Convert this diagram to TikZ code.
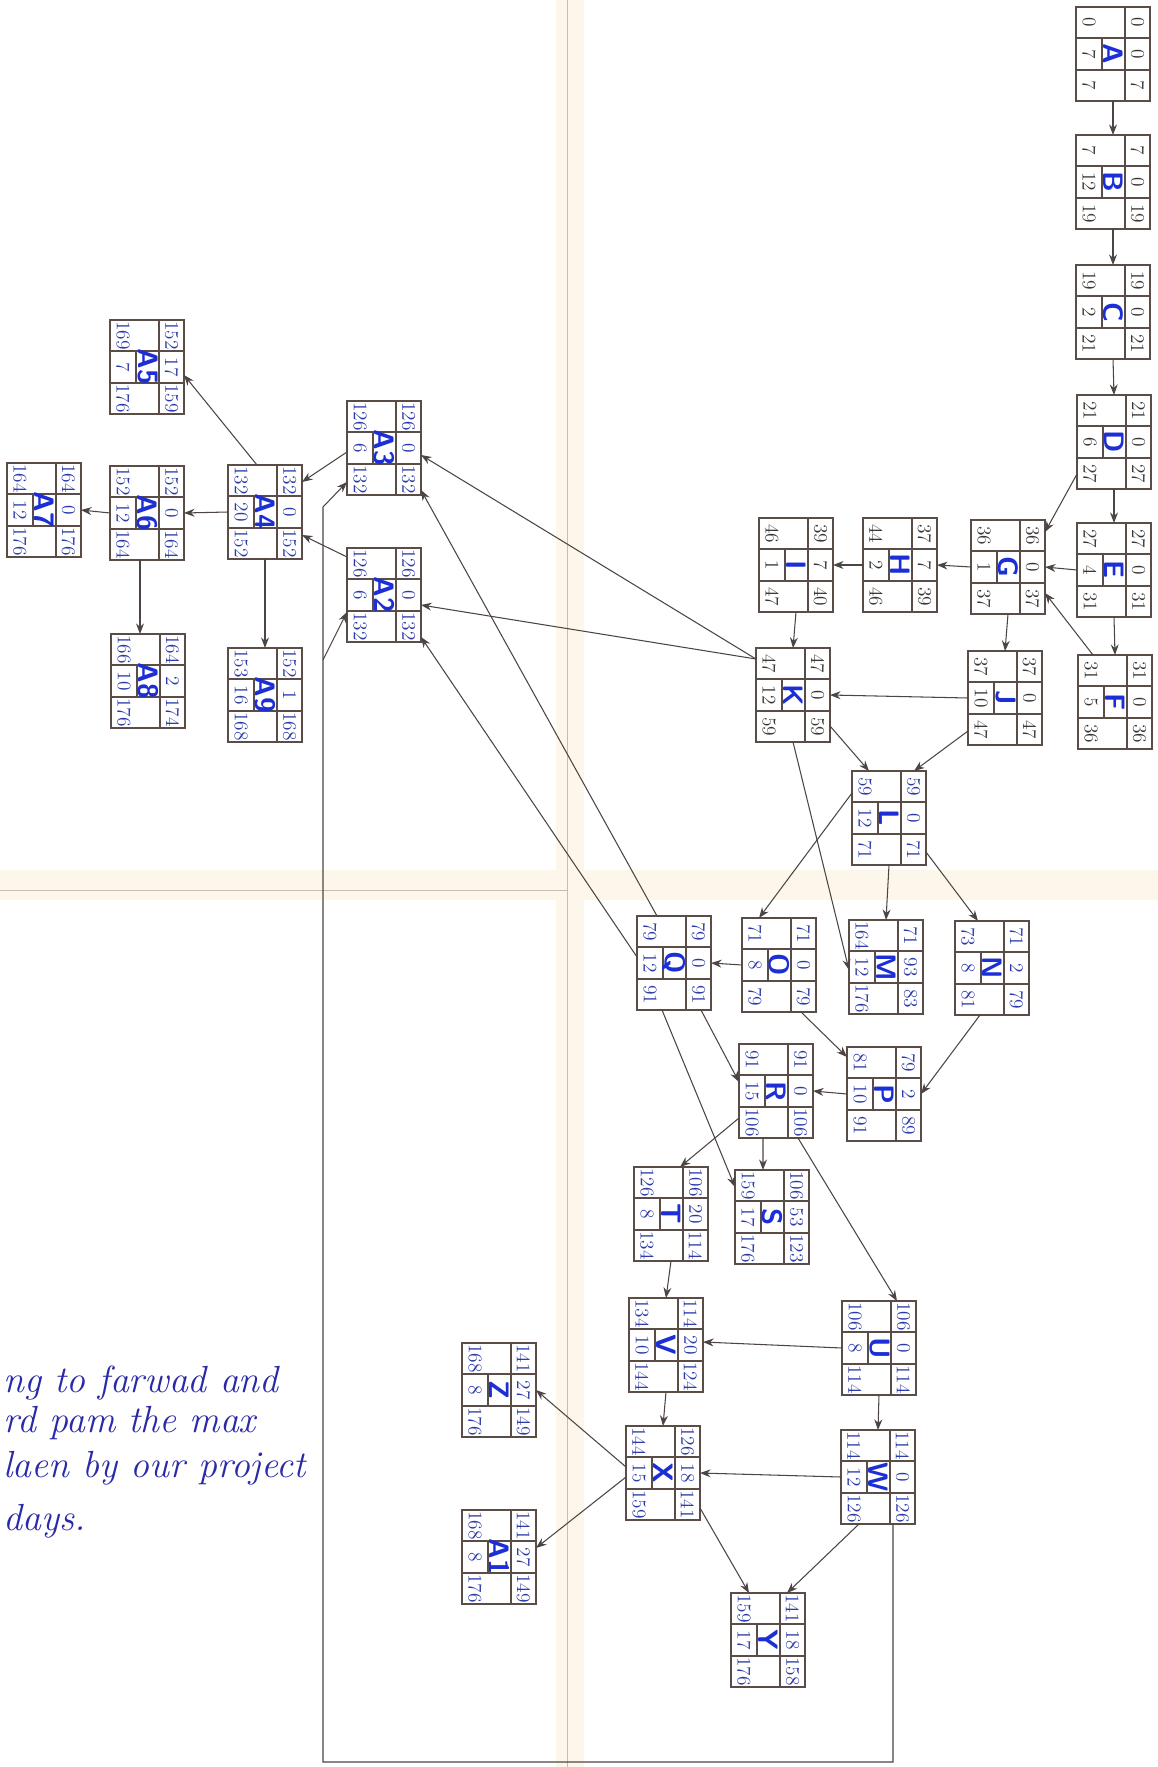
\documentclass[tikz,border=0pt]{standalone}
\usepackage{tikz}
\usetikzlibrary{arrows.meta}

\definecolor{boxline}{HTML}{5A4D48}
\definecolor{arrline}{HTML}{4D4545}
\definecolor{numdark}{HTML}{3A3535}
\definecolor{numblue}{HTML}{2B3AA8}
\definecolor{labelblue}{HTML}{1C2FD6}
\definecolor{inkblue}{HTML}{2A2AA8}
\definecolor{foldtan}{HTML}{FCF7EA}
\definecolor{foldline}{HTML}{C4BDB4}
\colorlet{numcol}{numdark}

% one activity box: name, centre, label, ES, TF, EF, LS, duration, LF
\newcommand{\actnode}[9]{%
    \begin{scope}[shift={#2}]
        \node[actbox] (#1) at (0,0) {};
        \draw[actgrid] (12,-47) -- (12,47) (-37,-16) -- (37,-16) (-37,16) -- (37,16) (-11,-16) -- (-11,16);
        \node[actname] at (0.5,0) {#3};
        \node[actnum] at (24.5,-31.5) {#4};
        \node[actnum] at (24.5,0) {#5};
        \node[actnum] at (24.5,31.5) {#6};
        \node[actnum] at (-24,-31.5) {#7};
        \node[actnum] at (-24,0) {#8};
        \node[actnum] at (-24,31.5) {#9};
    \end{scope}}

\begin{document}
\begin{tikzpicture}[x=0.02cm, y=-0.02cm,
        actbox/.style={draw=boxline, line width=0.7pt, minimum width=1.48cm, minimum height=1.88cm, inner sep=0pt, outer sep=0pt},
        actgrid/.style={draw=boxline, line width=0.6pt},
        actnum/.style={rotate=-90, text=numcol, font=\fontsize{11}{13}\selectfont, inner sep=0pt},
        actname/.style={rotate=-90, text=labelblue, font=\fontsize{16}{18}\selectfont\sffamily\bfseries, inner sep=0pt},
        arr/.style={draw=arrline, line width=0.6pt, -{Stealth[length=6pt,width=4.5pt]}},
        note/.style={text=inkblue, font=\fontsize{21.5}{26}\selectfont\itshape, anchor=base west, inner sep=0pt}]
        \useasboundingbox (0,0) rectangle (1158,1767);

        % paper and folds
        \fill[white] (0,0) rectangle (1158,1767);
        \fill[foldtan] (556,0) rectangle (584,1767);
        \fill[foldtan] (0,870) rectangle (1158,900);
        \draw[foldline, line width=0.5pt] (567,0) -- (567,1767);
        \draw[foldline, line width=0.5pt] (0,890) -- (567,890);

        % main chain
        \actnode{A}{(1113,54)}{A}{0}{0}{7}{0}{7}{7}
        \actnode{B}{(1113,182)}{B}{7}{0}{19}{7}{12}{19}
        \actnode{C}{(1113,312)}{C}{19}{0}{21}{19}{2}{21}
        \actnode{D}{(1114,442)}{D}{21}{0}{27}{21}{6}{27}
        \actnode{E}{(1114,570)}{E}{27}{0}{31}{27}{4}{31}
        \actnode{F}{(1115,702)}{F}{31}{0}{36}{31}{5}{36}
        \actnode{G}{(1008,567)}{G}{36}{0}{37}{36}{1}{37}
        \actnode{H}{(900,565)}{H}{37}{7}{39}{44}{2}{46}
        \actnode{I}{(796,565)}{I}{39}{7}{40}{46}{1}{47}
        \actnode{J}{(1005,698)}{J}{37}{0}{47}{37}{10}{47}
        \actnode{K}{(793,695)}{K}{47}{0}{59}{47}{12}{59}

        \colorlet{numcol}{numblue}
        \actnode{L}{(889,818)}{L}{59}{0}{71}{59}{12}{71}
        \actnode{M}{(886,967)}{M}{71}{93}{83}{164}{12}{176}
        \actnode{N}{(992,968)}{N}{71}{2}{79}{73}{8}{81}
        \actnode{O}{(779,965)}{O}{71}{0}{79}{71}{8}{79}
        \actnode{Q}{(674,963)}{Q}{79}{0}{91}{79}{12}{91}
        \actnode{P}{(884,1094)}{P}{79}{2}{89}{81}{10}{91}
        \actnode{R}{(776,1091)}{R}{91}{0}{106}{91}{15}{106}
        \actnode{S}{(772,1217)}{S}{106}{53}{123}{159}{17}{176}
        \actnode{T}{(671,1214)}{T}{106}{20}{114}{126}{8}{134}
        \actnode{U}{(879,1348)}{U}{106}{0}{114}{106}{8}{114}
        \actnode{V}{(666,1345)}{V}{114}{20}{124}{134}{10}{144}
        \actnode{W}{(878,1477)}{W}{114}{0}{126}{114}{12}{126}
        \actnode{X}{(663,1473)}{X}{126}{18}{141}{144}{15}{159}
        \actnode{Y}{(768,1640)}{Y}{141}{18}{158}{159}{17}{176}
        \actnode{Z}{(499,1390)}{Z}{141}{27}{149}{168}{8}{176}
        \actnode{A1}{(499,1557)}{A1}{141}{27}{149}{168}{8}{176}

        % left part
        \actnode{A3}{(384,448)}{A3}{126}{0}{132}{126}{6}{132}
        \actnode{A2}{(384,595)}{A2}{126}{0}{132}{126}{6}{132}
        \actnode{A4}{(265,512)}{A4}{132}{0}{152}{132}{20}{152}
        \actnode{A5}{(147,367)}{A5}{152}{17}{159}{169}{7}{176}
        \actnode{A6}{(147,513)}{A6}{152}{0}{164}{152}{12}{164}
        \actnode{A7}{(44,510)}{A7}{164}{0}{176}{164}{12}{176}
        \actnode{A8}{(148,681)}{A8}{164}{2}{174}{166}{10}{176}
        \actnode{A9}{(265,695)}{A9}{152}{1}{168}{153}{16}{168}

        % connectors
        \draw[arr] (A.south) -- (B.north);
        \draw[arr] (B.south) -- (C.north);
        \draw[arr] (C.south) -- (D.north);
        \draw[arr] (D.south) -- (E.north);
        \draw[arr] (E.south) -- (F.north);
        \draw[arr] ([yshift=0.3cm]D.south west) -- ([yshift=0.7cm]G.east);
        \draw[arr] (E.west) -- (G.east);
        \draw[arr] ([xshift=0.3cm]F.north west) -- ([yshift=-0.52cm]G.east);
        \draw[arr] (G.west) -- (H.east);
        \draw[arr] (H.west) -- (I.east);
        \draw[arr] (G.south) -- (J.north);
        \draw[arr] (I.south) -- (K.north);
        \draw[arr] (J.west) -- (K.east);
        \draw[arr] ([yshift=0.32cm]K.south east) -- ([xshift=0.34cm]L.north west);
        \draw[arr] ([yshift=0.28cm]J.south west) -- ([xshift=-0.24cm]L.north east);
        \draw[arr] (K.south) -- ([yshift=-0.06cm]M.west);
        \draw[arr] ([yshift=0.72cm]K.west) -- ([yshift=-0.14cm]A3.east);
        \draw[arr] ([yshift=0.72cm]K.west) -- ([yshift=-0.2cm]A2.east);
        \draw[arr] ([xshift=0.4cm]Q.north west) -- ([yshift=-0.84cm]A3.east);
        \draw[arr] ([yshift=0.12cm]Q.west) -- ([yshift=-0.84cm]A2.east);
        \draw[arr] (L.south) -- (M.north);
        \draw[arr] ([yshift=0.26cm]L.south east) -- ([xshift=-0.28cm]N.north);
        \draw[arr] ([yshift=0.5cm]L.west) -- ([xshift=0.34cm]O.north west);
        \draw[arr] ([xshift=-0.24cm]N.south) -- (P.east);
        \draw[arr] ([xshift=-0.3cm]O.south east) -- ([yshift=-0.2cm]P.north west);
        \draw[arr] (O.west) -- (Q.east);
        \draw[arr] ([xshift=-0.2cm]Q.south east) -- ([yshift=0.18cm]R.west);
        \draw[arr] (P.west) -- (R.east);
        \draw[arr] ([xshift=-0.24cm]Q.south) -- ([yshift=0.6cm]S.west);
        \draw[arr] ([xshift=-0.26cm]R.south) -- ([xshift=-0.18cm]S.north);
        \draw[arr] ([yshift=0.4cm]R.south west) -- ([xshift=0.18cm]T.north);
        \draw[arr] ([xshift=-0.3cm]R.south east) -- ([xshift=0.36cm]U.north);
        \draw[arr] (T.south) -- (V.north);
        \draw[arr] (U.west) -- ([yshift=0.06cm]V.east);
        \draw[arr] (U.south) -- (W.north);
        \draw[arr] (V.south) -- (X.north);
        \draw[arr] (W.west) -- (X.east);
        \draw[arr] ([yshift=0.24cm]X.south east) -- ([xshift=0.36cm]Y.north west);
        \draw[arr] ([xshift=0.36cm]W.south west) -- ([xshift=-0.36cm]Y.north east);
        \draw[arr] ([yshift=0.12cm]X.west) -- (Z.east);
        \draw[arr] ([yshift=-0.08cm]X.west) -- ([yshift=0.18cm]A1.east);

        % long return line from W
        \coordinate (wbottom) at (893,1762);
        \coordinate (wleft) at (323,1762);
        \coordinate (wtop) at (323,507);
        \coordinate (wfork) at (323,660);
        \draw[arr] ([xshift=0.3cm]W.south) -- (wbottom) -- (wleft) -- (wtop) -- ([yshift=0.26cm]A3.south west);
        \draw[arr] (wfork) -- ([yshift=-0.34cm]A2.west);

        \draw[arr] ([yshift=-0.08cm]A3.west) -- ([yshift=0.6cm]A4.east);
        \draw[arr] ([yshift=0.76cm]A2.west) -- ([yshift=-0.46cm]A4.east);
        \draw[arr] ([xshift=-0.16cm]A4.north) -- ([yshift=-0.16cm]A5.east);
        \draw[arr] (A4.west) -- (A6.east);
        \draw[arr] (A4.south) -- (A9.north);
        \draw[arr] ([xshift=-0.14cm]A6.south) -- ([xshift=-0.16cm]A8.north);
        \draw[arr] (A6.west) -- (A7.east);

        % note
        \node[note] (note1) at (3,1392) {ng to farwad and};
        \node[note] (note2) at (3,1432) {rd pam the max};
        \node[note] (note3) at (3,1477) {laen by our project};
        \node[note] (note4) at (3,1530) {days.};
\end{tikzpicture}
\end{document}
